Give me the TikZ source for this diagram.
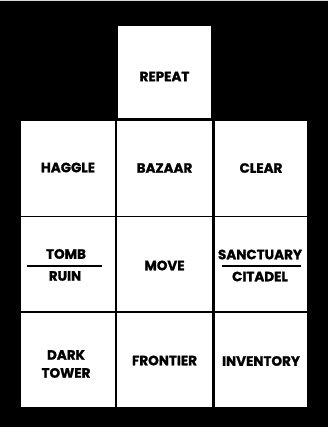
\documentclass[tikz,border=0pt]{standalone}
\usepackage{fontspec}
\setmainfont{Poppins}[BoldFeatures={FakeBold=1.2}]
\begin{document}
\begin{tikzpicture}[x=1pt,y=1pt,
  cell/.style={rectangle,fill=white,inner sep=0pt,minimum width=94pt,minimum height=94pt},
  lbl/.style={inner sep=0pt,font=\bfseries\fontsize{13.5}{18}\selectfont,text=black,align=center},
  bar/.style={line width=1.4pt,black}]
\fill[black] (0,0) rectangle (328,427);
\useasboundingbox (0,0) rectangle (328,427);
\fill[black!15] (0,426) rectangle (328,427);
% cells (y = 427 - pixel row)
\node[cell,minimum width=93pt,minimum height=92pt] (repeat) at (164.5,355) {};
\node[cell,minimum height=95pt] (haggle) at (68,258.5) {};
\node[cell,minimum width=95pt,minimum height=95pt] (bazaar) at (164.5,258.5) {};
\node[cell,minimum width=92pt,minimum height=95pt] (clear) at (261,258.5) {};
\node[cell] (tomb) at (68,163) {};
\node[cell,minimum width=95pt] (move) at (164.5,163) {};
\node[cell,minimum width=92pt] (sanct) at (261,163) {};
\node[cell] (dark) at (68,67) {};
\node[cell,minimum width=95pt] (front) at (164.5,67) {};
\node[cell,minimum width=92pt] (inv) at (261,67) {};
% labels
\node[lbl] (trepeat) at (164.5,350.5) {REPEAT};
\node[lbl] (thaggle) at (68,259.5) {HAGGLE};
\node[lbl] (tbazaar) at (164.5,259) {BAZAAR};
\node[lbl] (tclear) at (261,259) {CLEAR};
\node[lbl] (ttomb) at (66,173) {TOMB};
\node[lbl] (truin) at (65,151) {RUIN};
\draw[bar] (27,161) -- (102,161);
\node[lbl] (tmove) at (164.5,161.5) {MOVE};
\node[lbl] (tsanct) at (260,172.5) {SANCTUARY};
\node[lbl] (tcitadel) at (260,150.5) {CITADEL};
\draw[bar] (222,161) -- (301,161);
\node[lbl] (tdark) at (66,63) {DARK\\TOWER};
\node[lbl] (tfront) at (164.5,66.5) {FRONTIER};
\node[lbl] (tinv) at (261,66) {INVENTORY};
\end{tikzpicture}
\end{document}
